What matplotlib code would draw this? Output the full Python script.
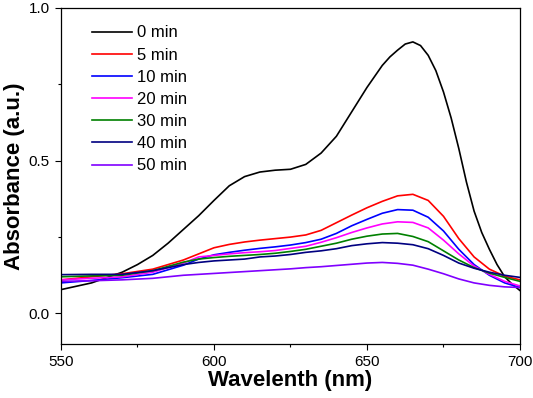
import matplotlib
matplotlib.use("Agg")
import matplotlib.pyplot as plt
from matplotlib.ticker import MultipleLocator

plt.rcParams['font.family'] = ['Liberation Sans', 'DejaVu Sans']

# wavelength grid for the 0 min spectrum (nm)
wl0 = [550, 560, 570, 575, 580, 585, 590, 595, 600, 605, 610, 615, 620, 625, 630, 635,
       640, 645, 650, 655, 657.5, 660, 662.5, 665, 667.5, 670, 672.5, 675, 677.5,
       680, 682.5, 685, 687.5, 690, 692.5, 695, 697.5, 700]
a0 = [0.078, 0.10, 0.135, 0.16, 0.19, 0.23, 0.275, 0.32, 0.37, 0.418, 0.448, 0.463,
      0.469, 0.472, 0.488, 0.525, 0.58, 0.66, 0.74, 0.812, 0.84, 0.862, 0.882, 0.889,
      0.877, 0.845, 0.795, 0.725, 0.64, 0.54, 0.43, 0.335, 0.265, 0.21, 0.16, 0.12,
      0.095, 0.075]

# wavelength grid for the other spectra (nm)
wl = [550, 560, 570, 580, 590, 595, 600, 605, 610, 615, 620, 625, 630, 635,
      640, 645, 650, 655, 660, 665, 670, 675, 680, 685, 690, 695, 700]
a5 = [0.11, 0.12, 0.13, 0.145, 0.175, 0.195, 0.215, 0.226, 0.234, 0.24, 0.245, 0.25,
      0.257, 0.272, 0.297, 0.322, 0.346, 0.367, 0.385, 0.39, 0.37, 0.318, 0.245,
      0.185, 0.145, 0.122, 0.11]
a10 = [0.10, 0.108, 0.117, 0.128, 0.158, 0.178, 0.192, 0.2, 0.207, 0.213, 0.218, 0.224,
       0.232, 0.243, 0.262, 0.287, 0.308, 0.328, 0.34, 0.338, 0.315, 0.27, 0.21,
       0.16, 0.125, 0.1, 0.085]
a20 = [0.11, 0.115, 0.12, 0.135, 0.165, 0.185, 0.19, 0.195, 0.199, 0.202, 0.206, 0.213,
       0.22, 0.233, 0.248, 0.265, 0.28, 0.293, 0.3, 0.298, 0.28, 0.24, 0.195,
       0.155, 0.128, 0.105, 0.09]
a30 = [0.12, 0.123, 0.125, 0.14, 0.168, 0.178, 0.183, 0.187, 0.19, 0.193, 0.197, 0.203,
       0.21, 0.22, 0.23, 0.243, 0.253, 0.26, 0.262, 0.252, 0.235, 0.205, 0.175,
       0.15, 0.132, 0.118, 0.105]
a40 = [0.127, 0.128, 0.128, 0.14, 0.16, 0.167, 0.172, 0.175, 0.178, 0.185, 0.188, 0.193,
       0.2, 0.205, 0.212, 0.222, 0.228, 0.232, 0.23, 0.225, 0.212, 0.19, 0.165,
       0.148, 0.135, 0.125, 0.118]
a50 = [0.105, 0.107, 0.11, 0.115, 0.125, 0.128, 0.131, 0.134, 0.137, 0.14, 0.143, 0.146,
       0.15, 0.153, 0.157, 0.161, 0.165, 0.167, 0.164, 0.158, 0.145, 0.13, 0.113,
       0.1, 0.092, 0.087, 0.085]

labels = ["0 min", "5 min", "10 min", "20 min", "30 min", "40 min", "50 min"]
xs = [wl0, wl, wl, wl, wl, wl, wl]
series = [a0, a5, a10, a20, a30, a40, a50]
colors = ["#000000", "#ff0000", "#0000ff", "#ff00ff", "#008000", "#000080", "#8000ff"]

fig = plt.figure(figsize=(5.33, 3.98), dpi=100)
ax = fig.add_axes([0.1144, 0.1357, 0.8612, 0.8442])

for x, y, c, lab in zip(xs, series, colors, labels):
    ax.plot(x, y, color=c, lw=1.2, label=lab)

ax.set_xlim(550, 700)
ax.set_ylim(-0.1, 1.0)
ax.xaxis.set_major_locator(MultipleLocator(50))
ax.xaxis.set_minor_locator(MultipleLocator(25))
ax.yaxis.set_major_locator(MultipleLocator(0.5))
ax.yaxis.set_minor_locator(MultipleLocator(0.25))
ax.tick_params(which='both', direction='out', top=False, right=False, labelsize=11)
ax.tick_params(which='major', length=4.5, width=0.8)
ax.tick_params(which='minor', length=2.5, width=0.8)
for s in ax.spines.values():
    s.set_linewidth(0.9)

ax.set_xlabel("Wavelenth (nm)", fontsize=16, fontweight='bold', labelpad=1)
ax.set_ylabel("Absorbance (a.u.)", fontsize=16, fontweight='bold', labelpad=3)

ax.legend(loc='upper left', frameon=False, fontsize=12, handlelength=2.4,
          handletextpad=0.3, labelspacing=0.43, borderpad=0, borderaxespad=0,
          bbox_to_anchor=(0.0675, 0.948))

plt.savefig("out.png", dpi=100)
plt.close()
